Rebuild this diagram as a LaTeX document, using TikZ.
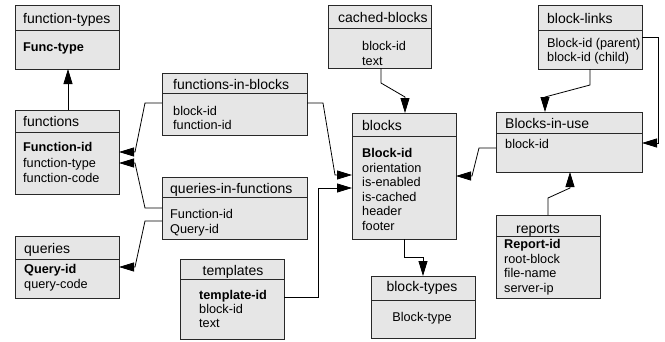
\documentclass[tikz,border=0pt]{standalone}
\usepackage{fontspec}
\setmainfont{Liberation Sans}
\usetikzlibrary{arrows.meta}
\definecolor{boxfill}{RGB}{230,230,230}
\definecolor{boxline}{RGB}{40,40,40}
\tikzset{
  tbl/.style={draw=boxline, fill=boxfill, line width=0.9pt, rectangle, anchor=north west, inner sep=0pt, outer sep=0pt},
  ttl/.style={anchor=west, inner sep=0pt, font=\fontsize{14}{16}\selectfont, text height=10.5pt, text depth=0.5pt},
  ttlc/.style={ttl, anchor=center},
  bod/.style={anchor=west, inner sep=0pt, font=\fontsize{12.7}{14}\selectfont, text height=9.5pt, text depth=0.5pt},
  bodc/.style={bod, anchor=center},
  conn/.style={draw=black, line width=0.8pt, -{Triangle[length=15pt,width=9pt]}},
}
\newcommand{\tablebox}[6]{% name, x1, y1, x2, y2, divider y
  \node[tbl, minimum width={#4-#2}, minimum height={#5-#3}] (#1) at (#2,#3) {};
  \draw[boxline, line width=0.9pt] (#1.west |- 0,#6) -- (#1.east |- 0,#6);
}
\begin{document}
\begin{tikzpicture}[x=1pt, y=-1pt]
\useasboundingbox (0,0) rectangle (665,341);

% tables
\tablebox{ft}{15}{5}{119}{69}{30}
\tablebox{fn}{15}{110}{119}{194}{132}
\tablebox{fib}{162}{73}{307}{135}{93}
\tablebox{qif}{162}{177}{307}{239}{197}
\tablebox{qr}{15}{236}{119}{298}{259}
\tablebox{tp}{180}{259}{284}{339}{279}
\tablebox{cb}{328}{5}{431}{68}{28}
\tablebox{bl}{352}{113}{456}{239}{136}
\tablebox{bt}{371}{276}{475}{338}{300}
\tablebox{lk}{538}{5}{642}{69}{30}
\tablebox{biu}{496}{112}{642}{172}{133}
\tablebox{rp}{496}{215}{600}{298}{236}

% texts
\node[ttl] (ftT) at (23,18) {function-types};
\node[bod] (ftA) at (23,47) {\textbf{Func-type}};

\node[ttl] (fnT) at (23,121) {functions};
\node[bod] (fnA) at (23,147) {\textbf{Function-id}};
\node[bod] (fnB) at (23,162.5) {function-type};
\node[bod] (fnC) at (23,178) {function-code};

\node[ttl] (fibT) at (173,84) {functions-in-blocks};
\node[bod] (fibA) at (173,110.5) {block-id};
\node[bod] (fibB) at (173,124.5) {function-id};

\node[ttl] (qifT) at (170,188) {queries-in-functions};
\node[bod] (qifA) at (170,214) {Function-id};
\node[bod] (qifB) at (170,228.5) {Query-id};

\node[ttl] (qrT) at (24,248) {queries};
\node[bod] (qrA) at (24,269) {\textbf{Query-id}};
\node[bod] (qrB) at (24,284) {query-code};

\node[ttlc] (tpT) at (233,270) {templates};
\node[bod] (tpA) at (199,295) {\textbf{template-id}};
\node[bod] (tpB) at (199,309) {block-id};
\node[bod] (tpC) at (199,323) {text};

\node[ttl] (cbT) at (338,17) {cached-blocks};
\node[bod] (cbA) at (362,46) {block-id};
\node[bod] (cbB) at (362,60.5) {text};

\node[ttl] (blT) at (362,125) {blocks};
\node[bod] (blA) at (362,153) {\textbf{Block-id}};
\node[bod] (blB) at (362,167.5) {orientation};
\node[bod] (blC) at (362,182) {is-enabled};
\node[bod] (blD) at (362,196.5) {is-cached};
\node[bod] (blE) at (362,211) {header};
\node[bod] (blF) at (362,225.5) {footer};

\node[ttlc] (btT) at (422,286) {block-types};
\node[bodc] (btA) at (422,316.5) {Block-type};

\node[ttl] (lkT) at (547,18) {block-links};
\node[bod] (lkA) at (547,43) {Block-id (parent)};
\node[bod] (lkB) at (547,57) {block-id (child)};

\node[ttl] (biuT) at (505,123) {Blocks-in-use};
\node[bod] (biuA) at (505,144) {block-id};

\node[ttl] (rpT) at (516,228) {reports};
\node[bod] (rpA) at (504,244) {\textbf{Report-id}};
\node[bod] (rpB) at (504,258.5) {root-block};
\node[bod] (rpC) at (504,273) {file-name};
\node[bod] (rpD) at (504,287.5) {server-ip};

% connectors
\draw[conn] (fn.north -| 68,0) -- (ft.south -| 68,0);
\draw[conn] (fib.west |- 0,103) -- (145,103) -- (135,152) -- (fn.east |- 0,152);
\draw[conn] (qif.west |- 0,208) -- (145,208) -- (135,163) -- (fn.east |- 0,163);
\draw[conn] (qif.west |- 0,221) -- (145,221) -- (135,267) -- (qr.east |- 0,267);
\draw[conn] (fib.east |- 0,103) -- (323,103) -- (335,175) -- (bl.west |- 0,175);
\draw[conn] (tp.east |- 0,297) -- (318,297) -- (318,188) -- (bl.west |- 0,188);
\draw[conn] (cb.south -| 381,0) -- (381,83) -- (405,97) -- (bl.north -| 405,0);
\draw[conn] (lk.south -| 590,0) -- (590,85) -- (545,97) -- (biu.north -| 545,0);
\draw[conn] (lk.east |- 0,37) -- (658,37) -- (658,143) -- (biu.east |- 0,143);
\draw[conn] (biu.west |- 0,148) -- (479,148) -- (472,176) -- (bl.east |- 0,176);
\draw[conn] (rp.north -| 548,0) -- (548,198) -- (570,188) -- (biu.south -| 570,0);
\draw[conn] (bl.south -| 404,0) -- (404,257) -- (423,257) -- (bt.north -| 423,0);
\end{tikzpicture}
\end{document}
